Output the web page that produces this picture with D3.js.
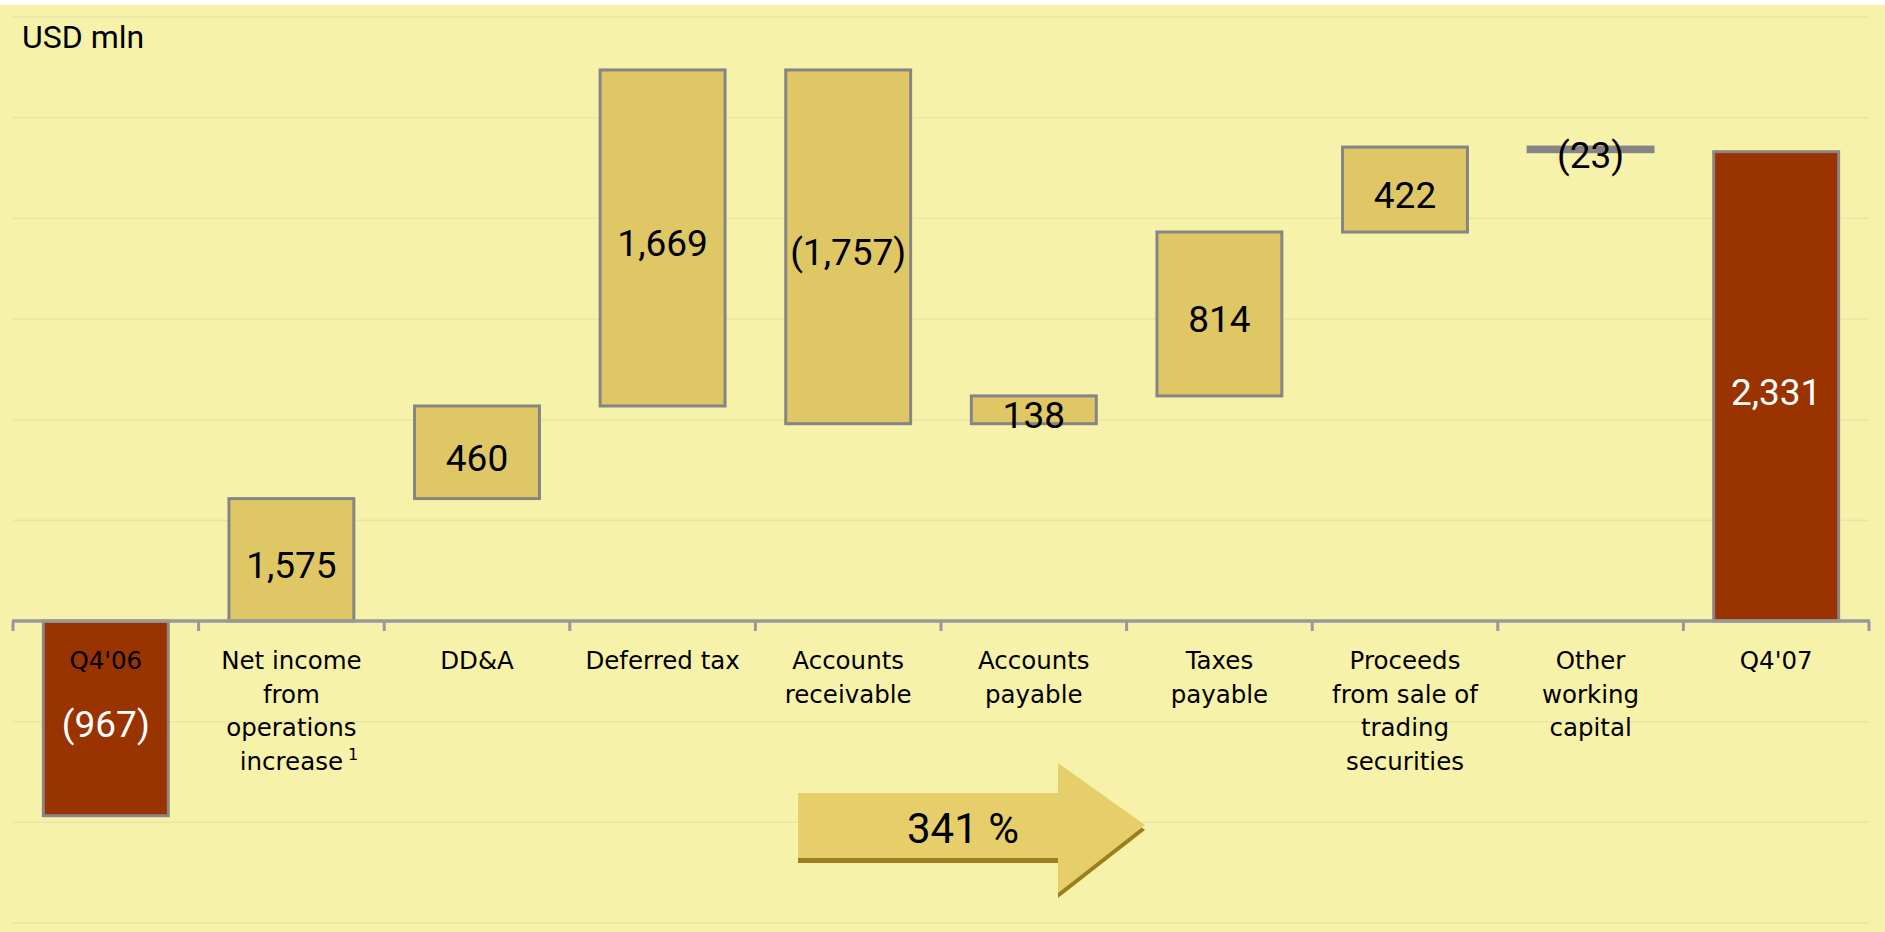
<!DOCTYPE html>
<html>
<head>
<meta charset="utf-8">
<script src="https://cdn.jsdelivr.net/npm/d3@7"></script>
<style>
  html, body { margin: 0; padding: 0; background: #ffffff; }
  svg { display: block; }
</style>
</head>
<body>
<script>
// ---------------- data ----------------
const categories = ["Q4'06", "Net income", "DD&A", "Deferred tax", "Accounts receivable",
  "Accounts payable", "Taxes payable", "Proceeds", "Other working capital", "Q4'07"];
const labelLines = [
  ["Q4'06"],
  ["Net income", "from", "operations", "increase"],
  ["DD&A"],
  ["Deferred tax"],
  ["Accounts", "receivable"],
  ["Accounts", "payable"],
  ["Taxes", "payable"],
  ["Proceeds", "from sale of", "trading", "securities"],
  ["Other", "working", "capital"],
  ["Q4'07"]
];
const values = [-967, 1575, 460, 1669, -1757, 138, 814, 422, -23, 2331];
const kinds = ["total", "delta", "delta", "delta", "delta", "delta", "delta", "delta", "delta", "total"];
const gridValues = [-1500, -1000, -500, 500, 1000, 1500, 2000, 2500, 3000];
const unitLabel = "USD mln";
const growthLabel = "341 %";

// ---------------- layout ----------------
const W = 1885, H = 932;
const svg = d3.select("body").append("svg").attr("width", W).attr("height", H);

svg.append("rect").attr("x", 0).attr("y", 5).attr("width", W).attr("height", H - 5).attr("fill", "#f7f2aa");

const x = d3.scaleBand().domain(categories).range([13, 1869]).paddingInner(0.327).paddingOuter(0.1635);
const y = d3.scaleLinear().domain([-1500, 3000]).range([923, 17]);
const step = x.step();

// gridlines
svg.append("g").selectAll("line").data(gridValues).join("line")
  .attr("x1", 13).attr("x2", 1869)
  .attr("y1", d => y(d)).attr("y2", d => y(d))
  .attr("stroke", "#ebe5a4").attr("stroke-width", 1.5);

// compute waterfall
let cum = 0;
const bars = values.map((v, i) => {
  let lo, hi;
  if (kinds[i] === "total") {
    lo = Math.min(0, v); hi = Math.max(0, v); cum = v;
  } else {
    const a = cum, b = cum + v; cum = b;
    lo = Math.max(0, Math.min(a, b)); hi = Math.max(a, b);
  }
  return { cat: categories[i], v, lo, hi, kind: kinds[i] };
});

// bars
svg.append("g").selectAll("rect").data(bars).join("rect")
  .attr("x", d => x(d.cat))
  .attr("width", x.bandwidth())
  .attr("y", d => y(d.hi))
  .attr("height", d => y(d.lo) - y(d.hi))
  .attr("fill", d => d.kind === "total" ? "#993300" : ((y(d.lo) - y(d.hi)) < 8 ? "#858585" : "#dfc765"))
  .attr("stroke", d => d.kind === "total" ? "#8f8282" : "#858585")
  .attr("stroke-width", 3);

// axis
const axisY = y(0);
svg.append("line").attr("x1", 12).attr("x2", 1870).attr("y1", axisY).attr("y2", axisY)
  .attr("stroke", "#999999").attr("stroke-width", 3.5);
const tickXs = categories.map(c => x(c) - step * 0.1635).concat([x(categories[categories.length - 1]) + x.bandwidth() + step * 0.1635]);
svg.append("g").selectAll("line").data(tickXs).join("line")
  .attr("x1", d => d).attr("x2", d => d)
  .attr("y1", axisY).attr("y2", axisY + 10)
  .attr("stroke", "#999999").attr("stroke-width", 3);

// category labels
const fmt = d3.format(",");
const labFont = "'DejaVu Sans', sans-serif";
const numFont = "Roboto, 'Liberation Sans', sans-serif";
categories.forEach((c, i) => {
  const cx = x(c) + x.bandwidth() / 2;
  labelLines[i].forEach((ln, j) => {
    const t = svg.append("text")
      .attr("x", cx).attr("y", 669 + j * 33.7)
      .attr("text-anchor", "middle")
      .attr("font-family", labFont).attr("font-size", 24.5)
      .attr("fill", "#000").text(ln);
    if (i === 1 && j === 3) {
      const w = t.node().getComputedTextLength();
      svg.append("text").attr("x", cx + w / 2 + 5).attr("y", 669 + j * 33.7 - 10)
        .attr("font-family", labFont).attr("font-size", 16).attr("fill", "#000").text("1");
    }
  });
});

// value labels
svg.append("g").selectAll("text").data(bars).join("text")
  .attr("x", d => x(d.cat) + x.bandwidth() / 2)
  .attr("y", d => (y(d.lo) + y(d.hi)) / 2 + 6)
  .attr("text-anchor", "middle")
  .attr("dominant-baseline", "central")
  .attr("font-family", numFont).attr("font-size", 37)
  .attr("fill", d => d.kind === "total" ? "#ffffff" : "#000000")
  .text(d => d.v < 0 ? "(" + fmt(-d.v) + ")" : fmt(d.v));

// unit label
svg.append("text").attr("x", 22).attr("y", 48)
  .attr("font-family", numFont).attr("font-size", 32).attr("fill", "#000").text(unitLabel);

// growth arrow
const ax0 = 798, ax1 = 1058, tip = 1145, bt = 793, bb = 858, ht = 763, hb = 893, my = 825;
const arrowPts = [[ax0, bt], [ax1, bt], [ax1, ht], [tip, my], [ax1, hb], [ax1, bb], [ax0, bb]];
const line = d3.line();
svg.append("path").attr("d", line(arrowPts.map(p => [p[0], p[1] + 5])) + "Z").attr("fill", "#9b7f1f");
svg.append("path").attr("d", line(arrowPts) + "Z").attr("fill", "#e6ce6a");
svg.append("text").attr("x", 963).attr("y", 843)
  .attr("text-anchor", "middle")
  .attr("font-family", numFont).attr("font-size", 42).attr("fill", "#000").text(growthLabel);
</script>
</body>
</html>
